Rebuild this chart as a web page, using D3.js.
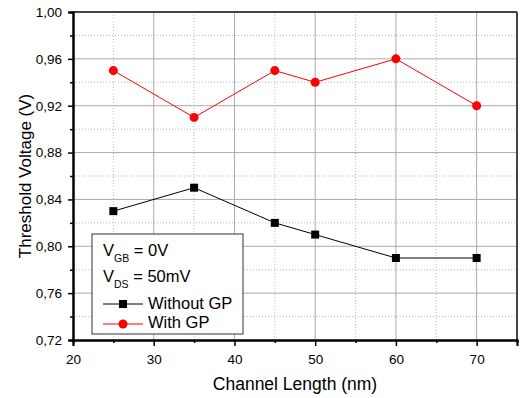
<!DOCTYPE html>
<html>
<head>
<meta charset="utf-8">
<script src="https://cdn.jsdelivr.net/npm/d3@7"></script>
<style>
  body { margin: 0; background: #fff; }
  text { font-family: "Liberation Sans", Arial, sans-serif; }
</style>
</head>
<body>
<div class="chart"></div>
<script>
var channelLength = [25, 35, 45, 50, 60, 70];
var withoutGP = [0.83, 0.85, 0.82, 0.81, 0.79, 0.79];
var withGP = [0.95, 0.91, 0.95, 0.94, 0.96, 0.92];
var xTicks = [20, 30, 40, 50, 60, 70];
var yTicks = [0.72, 0.76, 0.80, 0.84, 0.88, 0.92, 0.96, 1.00];

var width = 520, height = 398;
var m = { left: 73, right: 3, top: 12, bottom: 58 };

var svg = d3.select(".chart").append("svg")
  .attr("width", width)
  .attr("height", height);

var x = d3.scaleLinear().domain([20, 75]).range([m.left, width - m.right]);
var y = d3.scaleLinear().domain([0.72, 1.00]).range([height - m.bottom, m.top]);

var fmt = function(d) { return d3.format(".2f")(d).replace(".", ","); };

// grid - minor dotted
var g = svg.append("g");
d3.range(25, 75, 10).forEach(function(v) {
  g.append("line").attr("x1", x(v)).attr("x2", x(v))
    .attr("y1", y(0.72)).attr("y2", y(1.00))
    .attr("stroke", "#bbb").attr("stroke-dasharray", "1,2");
});
d3.range(0.74, 1.0, 0.04).forEach(function(v) {
  g.append("line").attr("x1", x(20)).attr("x2", x(75))
    .attr("y1", y(v)).attr("y2", y(v))
    .attr("stroke", "#bbb").attr("stroke-dasharray", "1,2");
});
// grid - major solid
xTicks.slice(1).forEach(function(v) {
  g.append("line").attr("x1", x(v)).attr("x2", x(v))
    .attr("y1", y(0.72)).attr("y2", y(1.00))
    .attr("stroke", "#aaa");
});
yTicks.slice(1, -1).forEach(function(v) {
  g.append("line").attr("x1", x(20)).attr("x2", x(75))
    .attr("y1", y(v)).attr("y2", y(v))
    .attr("stroke", "#aaa");
});

// frame top/right
svg.append("line").attr("x1", x(20)).attr("x2", x(75)).attr("y1", y(1)).attr("y2", y(1))
  .attr("stroke", "#444").attr("stroke-width", 2);
svg.append("line").attr("x1", x(75)).attr("x2", x(75)).attr("y1", y(1)).attr("y2", y(0.72))
  .attr("stroke", "#444").attr("stroke-width", 2);

// axes
var xAxis = svg.append("g").attr("transform", "translate(0," + y(0.72) + ")")
  .call(d3.axisBottom(x).tickValues(xTicks).tickSize(6).tickPadding(8).tickFormat(d3.format("d")));
var xMinor = svg.append("g").attr("transform", "translate(0," + y(0.72) + ")")
  .call(d3.axisBottom(x).tickValues(d3.range(25, 80, 10)).tickSize(3).tickFormat(""));
var yAxis = svg.append("g").attr("transform", "translate(" + x(20) + ",0)")
  .call(d3.axisLeft(y).tickValues(yTicks).tickSize(5).tickPadding(6).tickFormat(fmt));
var yMinor = svg.append("g").attr("transform", "translate(" + x(20) + ",0)")
  .call(d3.axisLeft(y).tickValues(d3.range(0.74, 1.0, 0.04)).tickSize(3).tickFormat(""));

[xAxis, xMinor, yAxis, yMinor].forEach(function(a) {
  a.select(".domain").attr("stroke", "#000").attr("stroke-width", 2);
  a.selectAll(".tick line").attr("stroke", "#000").attr("stroke-width", 1.5);
  a.selectAll("text").attr("font-size", 13.5).attr("fill", "#000")
    .style("font-family", "'Liberation Sans', Arial, sans-serif");
});

// axis titles
svg.append("text").attr("x", x(47.5)).attr("y", 390)
  .attr("text-anchor", "middle").attr("font-size", 17.5).text("Channel Length (nm)");
svg.append("text").attr("transform", "translate(31," + y(0.86) + ") rotate(-90)")
  .attr("text-anchor", "middle").attr("font-size", 17).text("Threshold Voltage (V)");

// series
var line = d3.line().x(function(d) { return x(d[0]); }).y(function(d) { return y(d[1]); });
var s1 = d3.zip(channelLength, withoutGP);
var s2 = d3.zip(channelLength, withGP);

svg.append("path").datum(s1).attr("d", line).attr("fill", "none").attr("stroke", "#000");
svg.selectAll(".sq").data(s1).enter().append("rect")
  .attr("x", function(d) { return x(d[0]) - 4; })
  .attr("y", function(d) { return y(d[1]) - 4; })
  .attr("width", 8).attr("height", 8).attr("fill", "#000");

svg.append("path").datum(s2).attr("d", line).attr("fill", "none").attr("stroke", "#f00");
svg.selectAll(".ci").data(s2).enter().append("circle")
  .attr("cx", function(d) { return x(d[0]); })
  .attr("cy", function(d) { return y(d[1]); })
  .attr("r", 4.5).attr("fill", "#f00");

// legend
var lg = svg.append("g");
lg.append("rect").attr("x", 92).attr("y", 234).attr("width", 151).attr("height", 100)
  .attr("fill", "#fff").attr("stroke", "#333");
var t1 = lg.append("text").attr("x", 103).attr("y", 256).attr("font-size", 16.5);
t1.append("tspan").text("V");
t1.append("tspan").attr("font-size", 10.5).attr("dy", 6).text("GB");
t1.append("tspan").attr("dy", -6).text(" = 0V");
var t2 = lg.append("text").attr("x", 103).attr("y", 282).attr("font-size", 16.5);
t2.append("tspan").text("V");
t2.append("tspan").attr("font-size", 10.5).attr("dy", 6).text("DS");
t2.append("tspan").attr("dy", -6).text(" = 50mV");

lg.append("line").attr("x1", 103).attr("x2", 143).attr("y1", 304).attr("y2", 304).attr("stroke", "#000");
lg.append("rect").attr("x", 119).attr("y", 300).attr("width", 8).attr("height", 8).attr("fill", "#000");
lg.append("text").attr("x", 148).attr("y", 309).attr("font-size", 16.5).text("Without GP");

lg.append("line").attr("x1", 103).attr("x2", 143).attr("y1", 324).attr("y2", 324).attr("stroke", "#f00");
lg.append("circle").attr("cx", 123).attr("cy", 324).attr("r", 4.5).attr("fill", "#f00");
lg.append("text").attr("x", 148).attr("y", 328).attr("font-size", 16.5).text("With GP");
</script>
</body>
</html>
